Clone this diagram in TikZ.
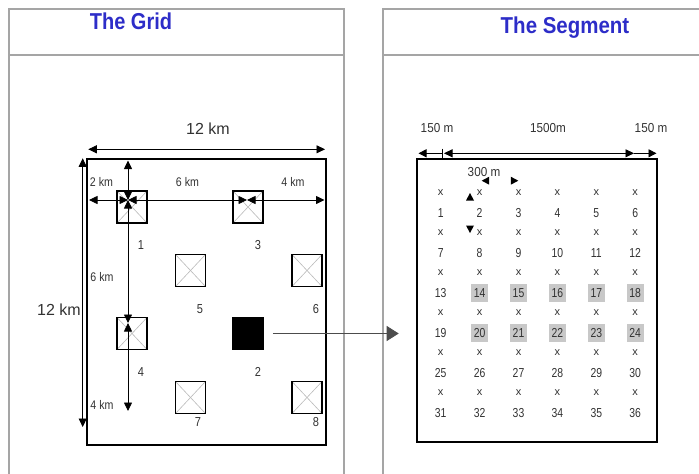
\documentclass[tikz,border=0pt]{standalone}
\usepackage{graphicx}
\usepackage{fontspec}
\setmainfont{Liberation Sans}
\usetikzlibrary{arrows.meta}
\definecolor{titleblue}{RGB}{45,45,200}
\definecolor{panelgray}{RGB}{165,165,165}
\definecolor{txtgray}{RGB}{50,50,50}
\definecolor{hlgray}{RGB}{200,200,200}
\definecolor{xgray}{RGB}{185,185,185}
\newcommand{\narrow}[2][0.85]{\scalebox{#1}[1]{#2}}
\tikzset{
  panel/.style={draw=panelgray, line width=1.6pt},
  titletext/.style={font=\fontsize{23}{23}\selectfont\bfseries, text=titleblue, inner sep=0pt, anchor=base},
  bigbox/.style={draw=black, line width=2.6pt, inner sep=0pt},
  sbox/.style={draw=black, line width=1.8pt, inner sep=0pt, minimum width=30pt, minimum height=32pt,
    path picture={\draw[xgray, line width=0.6pt]
      (path picture bounding box.south west) -- (path picture bounding box.north east)
      (path picture bounding box.north west) -- (path picture bounding box.south east);}},
  fbox/.style={draw=black, fill=black, line width=1.8pt, inner sep=0pt, minimum width=30pt, minimum height=32pt},
  bignum/.style={font=\fontsize{16}{16}\selectfont, text=txtgray, inner sep=0pt},
  dimlabel/.style={font=\fontsize{12.5}{12.5}\selectfont, text=txtgray, inner sep=0pt},
  boxlabel/.style={font=\fontsize{13}{13}\selectfont, text=txtgray, inner sep=0pt},
  seglabel/.style={font=\fontsize{13}{13}\selectfont, text=txtgray, inner sep=0pt},
  gridnum/.style={font=\fontsize{13}{13}\selectfont, text=txtgray, inner sep=0pt, minimum width=17pt, minimum height=18pt},
  gridx/.style={font=\fontsize{11}{11}\selectfont, text=txtgray, inner sep=0pt},
  dimarrow/.style={draw=black, line width=0.8pt, {Triangle[length=8.5pt,width=8pt]}-{Triangle[length=8.5pt,width=8pt]}},
  dimend/.style={draw=black, line width=0.8pt, -{Triangle[length=8pt,width=8pt]}},
  connector/.style={draw=black!70, line width=0.9pt, -{Triangle[length=12pt,width=15pt]}}
}
\begin{document}
\begin{tikzpicture}[x=1pt,y=-1pt]
\useasboundingbox (0,0) rectangle (699,474);
% panels
\draw[panel] (9,474) -- (9,9) -- (344,9) -- (344,474);
\draw[panel] (9,55) -- (344,55);
\draw[panel] (383,474) -- (383,9) -- (699,9);
\draw[panel] (383,55) -- (699,55);
\node[titletext] (tgrid) at (131,29) {\narrow[0.87]{The Grid}};
\node[titletext] (tseg) at (565,33.5) {\narrow[0.89]{The Segment}};

% ---- the grid ----
\node[bigbox, minimum width=239pt, minimum height=286pt] (gridbox) at (206.5,302) {};
\node[sbox] (b1) at (132,207) {};
\node[sbox] (b3) at (248,207) {};
\node[sbox] (b5) at (190.5,270.5) {};
\node[sbox] (b6) at (307,270.5) {};
\node[sbox] (b4) at (132,333.5) {};
\node[fbox] (b2) at (248,333.5) {};
\node[sbox] (b7) at (190.5,397.5) {};
\node[sbox] (b8) at (307,397.5) {};
\node[boxlabel] (l1) at (141,245) {\narrow{1}};
\node[boxlabel] (l3) at (258,245) {\narrow{3}};
\node[boxlabel] (l5) at (200,309) {\narrow{5}};
\node[boxlabel] (l6) at (316,309) {\narrow{6}};
\node[boxlabel] (l4) at (141,372) {\narrow{4}};
\node[boxlabel] (l2) at (258,372) {\narrow{2}};
\node[boxlabel] (l7) at (198,422) {\narrow{7}};
\node[boxlabel] (l8) at (316,422) {\narrow{8}};

% dimension points
\coordinate (tl) at (88.3,149.3);
\coordinate (tr) at (325,149.3);
\coordinate (lt) at (82.7,158.3);
\coordinate (lb) at (82.7,427);
\coordinate (c1) at (128,200);
\coordinate (c3) at (247,200);
\coordinate (c4) at (128,323);
\coordinate (gl) at (89,200);
\coordinate (gr) at (324.5,200);
\coordinate (gt) at (128,160.5);
\coordinate (gb) at (128,411);
\draw[dimarrow] (tl) -- (tr);
\draw[dimarrow] (lt) -- (lb);
\draw[dimarrow] (gl) -- (c1);
\draw[dimarrow] (c1) -- (c3);
\draw[dimarrow] (c3) -- (gr);
\draw[dimarrow] (gt) -- (c1);
\draw[dimarrow] (c1) -- (c4);
\draw[dimarrow] (c4) -- (gb);
\node[bignum] (k12t) at (208,129) {12 km};
\node[bignum] (k12l) at (59,310) {12 km};
\node[dimlabel] (k2) at (101.5,182) {\narrow[0.85]{2 km}};
\node[dimlabel] (k6h) at (187.5,182) {\narrow[0.85]{6 km}};
\node[dimlabel] (k4h) at (293,182) {\narrow[0.85]{4 km}};
\node[dimlabel] (k6v) at (102,277) {\narrow[0.85]{6 km}};
\node[dimlabel] (k4v) at (102,404.5) {\narrow[0.85]{4 km}};

% ---- the segment ----
\node[bigbox, minimum width=240pt, minimum height=283pt] (segbox) at (537,300.5) {};
\draw[connector] ([xshift=9pt]b2.east) -- ([xshift=-17pt]segbox.west |- b2.east);

\node[seglabel] (m150l) at (437,128.5) {\narrow[0.9]{150 m}};
\node[seglabel] (m1500) at (548,128.5) {\narrow[0.9]{1500m}};
\node[seglabel] (m150r) at (651,128.5) {\narrow[0.9]{150 m}};
\coordinate (s0) at (418.5,153.3);
\coordinate (s1) at (442,153.3);
\coordinate (s2) at (634,153.3);
\coordinate (s3) at (656.5,153.3);
\draw[dimend] (s1) -- (s0);
\draw[dimarrow] ([xshift=2pt]s1) -- (s2);
\draw[dimend] (s2) -- (s3);
\draw[black, line width=0.8pt] (442,148.5) -- (442,158.5);

\node[seglabel] (m300) at (484,172.5) {\narrow[0.9]{300 m}};
\fill[black] (481.7,180.7) -- ++(7.5,-4) -- ++(0,8) -- cycle;
\fill[black] (518.3,180.7) -- ++(-7.5,-4) -- ++(0,8) -- cycle;
\fill[black] (470,193) -- ++(-4,7.5) -- ++(8,0) -- cycle;
\fill[black] (470,233) -- ++(-4,-7.5) -- ++(8,0) -- cycle;

\foreach \r in {0,...,5}{
  \foreach \c in {0,...,5}{
    \pgfmathtruncatemacro{\nn}{\r*6+\c+1}
    \pgfmathsetmacro{\px}{440.7+38.9*\c}
    \pgfmathsetmacro{\py}{193+40*\r}
    \pgfmathtruncatemacro{\hl}{((\r==2) || (\r==3)) && (\c>0) ? 1 : 0}
    \node[gridx] (x\nn) at (\px,\py) {x};
    \ifnum\hl=1
      \node[gridnum, fill=hlgray] (n\nn) at (\px,\py+20) {\narrow[0.8]{\nn}};
    \else
      \node[gridnum] (n\nn) at (\px,\py+20) {\narrow[0.8]{\nn}};
    \fi
  }
}
\end{tikzpicture}
\end{document}
